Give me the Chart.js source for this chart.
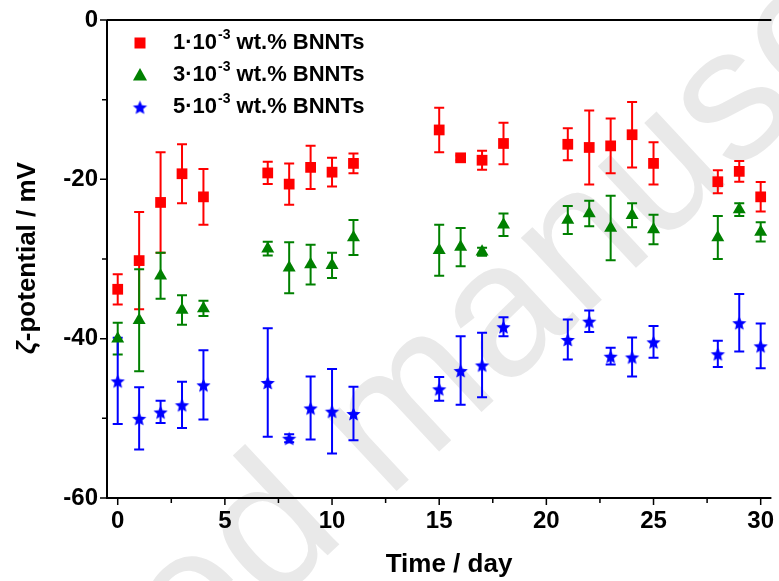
<!DOCTYPE html>
<html>
<head>
<meta charset="utf-8">
<script src="https://cdn.jsdelivr.net/npm/chart.js@4.4.1/dist/chart.umd.min.js"></script>
<style>
  body { margin: 0; background: #fff; }
  canvas { display: block; }
</style>
</head>
<body>
<canvas id="chart1" width="779" height="581"></canvas>
<script>
const days = [0, 1, 2, 3, 4, 7, 8, 9, 10, 11, 15, 16, 17, 18, 21, 22, 23, 24, 25, 28, 29, 30];

const red = [-33.8, -30.2, -22.9, -19.3, -22.2, -19.2, -20.6, -18.5, -19.1, -18.0, -13.8, -17.3, -17.6, -15.5, -15.6, -16.0, -15.8, -14.4, -18.0, -20.3, -19.0, -22.2];
const redErr = [1.9, 6.1, 6.3, 3.7, 3.5, 1.4, 2.6, 2.7, 1.8, 1.25, 2.8, 0.3, 1.2, 2.6, 2.0, 4.65, 3.45, 4.1, 2.65, 1.45, 1.3, 1.85];

const green = [-40.0, -37.7, -32.1, -36.4, -36.2, -28.7, -31.1, -30.7, -30.8, -27.3, -28.9, -28.5, -29.1, -25.7, -25.1, -24.3, -26.1, -24.5, -26.3, -27.3, -23.8, -26.6];
const greenErr = [2.0, 6.4, 2.9, 1.85, 0.95, 0.85, 3.2, 2.5, 1.6, 2.2, 3.2, 2.4, 0.5, 1.4, 1.75, 1.6, 4.05, 1.5, 1.85, 2.7, 0.8, 1.2];

const blue = [-45.3, -50.0, -49.2, -48.3, -45.8, -45.5, -52.5, -48.7, -49.1, -49.4, -46.3, -44.0, -43.3, -38.5, -40.1, -37.8, -42.2, -42.3, -40.4, -41.9, -38.0, -40.9];
const blueErr = [5.4, 3.9, 1.4, 2.9, 4.35, 6.8, 0.5, 3.95, 5.3, 3.35, 1.5, 4.3, 4.05, 1.2, 2.5, 1.35, 1.05, 2.45, 2.0, 1.65, 3.6, 2.8];

const concentrations = ['1', '3', '5'];
const xTicks = [0, 5, 10, 15, 20, 25, 30];
const yTicks = [-60, -40, -20, 0];

const AXIS_FONT = '"Liberation Sans Narrow", "Liberation Sans", Arial, sans-serif';
const TEXT_FONT = '"Liberation Sans", Arial, sans-serif';

function makeStar(color, r) {
    const c = document.createElement('canvas');
    c.width = c.height = Math.ceil(r * 2 + 2);
    const g = c.getContext('2d');
    const m = c.width / 2;
    g.beginPath();
    for (let k = 0; k < 10; k++) {
        const rr = k % 2 ? r * 0.45 : r;
        const a = -Math.PI / 2 + k * Math.PI / 5;
        g.lineTo(m + rr * Math.cos(a), m + 1 + rr * Math.sin(a));
    }
    g.closePath();
    g.fillStyle = color;
    g.fill();
    return c;
}

const star = makeStar('#0000ff', 7.5);

function points(ys) {
    return days.map((d, i) => ({ x: d, y: ys[i] }));
}

// faint "accepted manuscript" stamp behind the plot
const watermark = {
    id: 'watermark',
    beforeDraw(chart) {
        const ctx = chart.ctx;
        ctx.save();
        ctx.translate(387, 500);
        ctx.rotate(-43 * Math.PI / 180);
        ctx.font = '190px ' + TEXT_FONT;
        ctx.fillStyle = '#e9e9e9';
        ctx.textBaseline = 'alphabetic';
        ctx.textAlign = 'right';
        ctx.fillText('Accepted ', 0, 0);
        ctx.textAlign = 'left';
        ctx.fillText('manuscript', 0, 0);
        ctx.restore();
    }
};

const errorBars = {
    id: 'errorBars',
    beforeDatasetsDraw(chart) {
        const ctx = chart.ctx;
        const y = chart.scales.y;
        chart.data.datasets.forEach((ds, i) => {
            const meta = chart.getDatasetMeta(i);
            ctx.save();
            ctx.strokeStyle = ds.backgroundColor;
            ctx.lineWidth = 2;
            meta.data.forEach((pt, j) => {
                const v = ds.data[j].y, e = ds.errors[j];
                const top = y.getPixelForValue(v + e);
                const bot = y.getPixelForValue(v - e);
                ctx.beginPath();
                ctx.moveTo(pt.x, top); ctx.lineTo(pt.x, bot);
                ctx.moveTo(pt.x - 5, top); ctx.lineTo(pt.x + 5, top);
                ctx.moveTo(pt.x - 5, bot); ctx.lineTo(pt.x + 5, bot);
                ctx.stroke();
            });
            ctx.restore();
        });
    }
};

const frame = {
    id: 'frame',
    afterDraw(chart) {
        const ctx = chart.ctx;
        const a = chart.chartArea;
        const xs = chart.scales.x, ys = chart.scales.y;
        ctx.save();
        ctx.strokeStyle = '#000';
        ctx.lineWidth = 2;
        ctx.beginPath();
        ctx.moveTo(a.left, a.top); ctx.lineTo(a.right, a.top);
        ctx.moveTo(a.left, a.top); ctx.lineTo(a.left, a.bottom);
        ctx.moveTo(a.left - 1, a.bottom); ctx.lineTo(a.right, a.bottom);
        ctx.stroke();

        ctx.lineWidth = 1.5;
        ctx.beginPath();
        for (let v = 0; v <= 30; v += 2.5) {
            const px = xs.getPixelForValue(v);
            const len = v % 5 === 0 ? 7 : 5;
            ctx.moveTo(px, a.bottom); ctx.lineTo(px, a.bottom + len);
        }
        for (let v = -60; v <= 0; v += 10) {
            const py = ys.getPixelForValue(v);
            const len = v % 20 === 0 ? 7 : 5;
            ctx.moveTo(a.left, py); ctx.lineTo(a.left - len, py);
        }
        ctx.stroke();

        // axis titles
        ctx.fillStyle = '#000';
        ctx.textBaseline = 'middle';
        ctx.textAlign = 'center';
        ctx.font = 'bold 26px ' + AXIS_FONT;
        ctx.fillText('Time / day', 449, 565);

        ctx.save();
        ctx.translate(28, 258);
        ctx.rotate(-Math.PI / 2);
        const zeta = 'ζ', rest = '-potential / mV';
        ctx.font = 'italic bold 26px ' + AXIS_FONT;
        const wz = ctx.measureText(zeta).width;
        ctx.font = 'bold 26px ' + AXIS_FONT;
        const wr = ctx.measureText(rest).width;
        const x0 = -(wz + wr) / 2;
        ctx.textAlign = 'left';
        ctx.font = 'italic bold 26px ' + AXIS_FONT;
        ctx.fillText(zeta, x0, 0);
        ctx.font = 'bold 26px ' + AXIS_FONT;
        ctx.fillText(rest, x0 + wz, 0);
        ctx.restore();

        ctx.restore();
    }
};

const legendBox = {
    id: 'legendBox',
    afterDraw(chart) {
        const ctx = chart.ctx;
        ctx.save();
        chart.data.datasets.forEach((ds, i) => {
            const y = 43 + i * 32;
            const mx = 140;
            ctx.fillStyle = ds.backgroundColor;
            if (ds.pointStyle === 'rect') {
                ctx.fillRect(mx - 5.5, y - 5.5, 11, 11);
            } else if (ds.pointStyle === 'triangle') {
                ctx.beginPath();
                ctx.moveTo(mx, y - 7);
                ctx.lineTo(mx + 7, y + 5.5);
                ctx.lineTo(mx - 7, y + 5.5);
                ctx.closePath();
                ctx.fill();
            } else {
                ctx.drawImage(ds.pointStyle, mx - ds.pointStyle.width / 2, y - ds.pointStyle.height / 2);
            }
            ctx.fillStyle = '#000';
            ctx.textBaseline = 'middle';
            ctx.textAlign = 'left';
            let x = 173;
            ctx.font = 'bold 22px ' + TEXT_FONT;
            const head = concentrations[i] + '·10';
            ctx.fillText(head, x, y);
            x += ctx.measureText(head).width + 1;
            ctx.font = 'bold 14px ' + TEXT_FONT;
            ctx.fillText('-3', x, y - 8);
            x += ctx.measureText('-3').width;
            ctx.font = 'bold 22px ' + TEXT_FONT;
            ctx.fillText(' wt.% BNNTs', x, y);
        });
        ctx.restore();
    }
};

function drawChart() {
    const datasets = [
        { data: points(red), errors: redErr, pointStyle: 'rect', radius: 7.6, backgroundColor: '#ff0000' },
        { data: points(green), errors: greenErr, pointStyle: 'triangle', radius: 7.5, backgroundColor: '#008000' },
        { data: points(blue), errors: blueErr, pointStyle: star, radius: 7.5, backgroundColor: '#0000ff' }
    ];
    datasets.forEach(ds => {
        ds.borderWidth = 0;
        ds.borderColor = ds.backgroundColor;
        ds.showLine = false;
        ds.clip = false;
    });

    new Chart('chart1', {
        type: 'scatter',
        data: { datasets },
        options: {
            responsive: false,
            animation: false,
            events: [],
            layout: { padding: { top: 20, left: 0, right: 0, bottom: 0 } },
            plugins: { legend: { display: false }, tooltip: { enabled: false } },
            scales: {
                x: {
                    type: 'linear',
                    min: -0.5,
                    max: 30.5,
                    grid: { display: false, drawTicks: false },
                    border: { display: false },
                    afterBuildTicks: s => { s.ticks = xTicks.map(v => ({ value: v })); },
                    afterFit: s => { s.height = 83; s.paddingLeft = 0; s.paddingRight = 0; },
                    ticks: {
                        padding: 9,
                        color: '#000',
                        maxRotation: 0,
                        font: { family: AXIS_FONT, size: 24, weight: 'bold' }
                    }
                },
                y: {
                    type: 'linear',
                    min: -60,
                    max: 0,
                    grid: { display: false, drawTicks: false },
                    border: { display: false },
                    afterBuildTicks: s => { s.ticks = yTicks.map(v => ({ value: v })); },
                    afterFit: s => { s.width = 107; s.paddingTop = 0; s.paddingBottom = 0; },
                    ticks: {
                        padding: 9,
                        color: '#000',
                        font: { family: AXIS_FONT, size: 24, weight: 'bold' }
                    }
                }
            }
        },
        plugins: [watermark, errorBars, frame, legendBox]
    });
}

window.addEventListener('load', drawChart);
</script>
</body>
</html>
